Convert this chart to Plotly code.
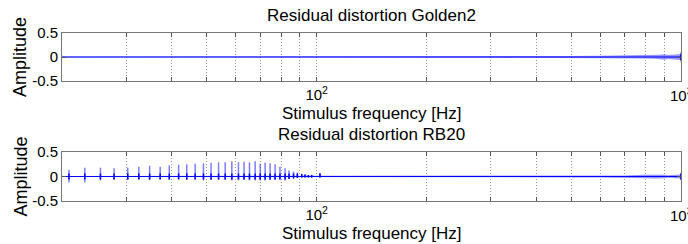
import plotly.graph_objects as go

# ---------------- data ----------------
titles = ["Residual distortion Golden2", "Residual distortion RB20"]
x_label = "Stimulus frequency [Hz]"
y_label = "Amplitude"

x_tickvals = [20, 30, 40, 50, 60, 70, 80, 90, 100, 200, 300, 400, 500, 600, 700, 800, 900, 1000]
x_ticktext = ["", "", "", "", "", "", "", "", "10<sup>2</sup>", "", "", "", "", "", "", "", "", ""]
edge_tick_value = 1000
edge_tick_text = "10<sup>3</sup>"
y_tickvals = [-0.5, 0, 0.5]
y_ticktext = ["-0.5", "0", "0.5"]

# noise envelope (half-width) of the residual along frequency
env_freq = [20, 30, 40, 50, 60, 70, 80, 90, 100, 130, 160, 200, 300, 400, 500, 600, 700, 800, 850, 880, 900, 920, 950, 1000]
env_golden2 = [0.008, 0.008, 0.009, 0.010, 0.010, 0.011, 0.012, 0.013, 0.015, 0.018, 0.018, 0.016, 0.016, 0.018, 0.022, 0.025, 0.028, 0.032, 0.035, 0.045, 0.055, 0.042, 0.045, 0.060]
env_rb20 = [0.010, 0.010, 0.011, 0.012, 0.012, 0.013, 0.014, 0.015, 0.016, 0.014, 0.014, 0.014, 0.014, 0.016, 0.018, 0.020, 0.022, 0.035, 0.040, 0.042, 0.038, 0.028, 0.030, 0.040]

# isolated spikes (frequency, upper and lower extreme)
spike_freq_golden2 = [1000]
spike_top_golden2 = [0.10]
spike_bot_golden2 = [-0.10]

spike_freq_rb20 = [20.9, 23.1, 25.5, 27.8, 30.3, 32.5, 34.8, 37.2, 39.4, 41.8, 44.0, 46.4, 48.9, 51.3,
                   53.8, 56.1, 58.5, 61.0, 63.2, 65.4, 67.8, 70.0, 72.2, 74.5, 76.9, 79.3, 81.9, 84.0,
                   86.4, 88.5, 91.0, 92.9, 94.9, 96.9, 102.1, 1000]
spike_top_rb20 = [0.14, 0.18, 0.18, 0.17, 0.18, 0.20, 0.22, 0.20, 0.23, 0.24, 0.25, 0.26, 0.27, 0.28,
                  0.29, 0.29, 0.31, 0.29, 0.30, 0.29, 0.31, 0.26, 0.28, 0.27, 0.25, 0.20, 0.17, 0.12,
                  0.10, 0.08, 0.05, 0.04, 0.03, 0.03, 0.07, 0.07]
spike_bot_rb20 = [-0.12, -0.12, -0.08, -0.06, -0.07, -0.06, -0.07, -0.06, -0.07, -0.06, -0.07, -0.06, -0.08, -0.07,
                  -0.07, -0.07, -0.08, -0.08, -0.07, -0.08, -0.08, -0.08, -0.08, -0.07, -0.07, -0.06, -0.08, -0.05,
                  -0.04, -0.03, -0.02, -0.02, -0.02, -0.02, -0.02, -0.07]

# ---------------- figure ----------------
BLUE = "#0000ff"
FONT = "Liberation Sans, Arial, sans-serif"
W, H = 688, 244
x0, x1 = 62, 681
panels = [(33, 81), (152, 201)]

fig = go.Figure()
series = [
    (env_golden2, spike_freq_golden2, spike_top_golden2, spike_bot_golden2),
    (env_rb20, spike_freq_rb20, spike_top_rb20, spike_bot_rb20),
]
for i, (env, sf, st, sb) in enumerate(series):
    xa = "x" if i == 0 else "x2"
    ya = "y" if i == 0 else "y2"
    # noise band
    bx = env_freq + env_freq[::-1]
    by = list(env) + [-v for v in env[::-1]]
    fig.add_trace(go.Scatter(x=bx, y=by, fill="toself", fillcolor="rgba(60,60,255,0.55)",
                             line=dict(width=0), mode="lines", hoverinfo="skip",
                             xaxis=xa, yaxis=ya, showlegend=False))
    # baseline
    fig.add_trace(go.Scatter(x=env_freq, y=[0] * len(env_freq), mode="lines",
                             line=dict(color=BLUE, width=1), xaxis=xa, yaxis=ya, showlegend=False))
    # spikes (light full extent)
    sx, sy = [], []
    for f, t, b in zip(sf, st, sb):
        sx += [f, f, None]
        sy += [b, t, None]
    fig.add_trace(go.Scatter(x=sx, y=sy, mode="lines", line=dict(color="rgba(40,40,255,0.6)", width=1.5),
                             xaxis=xa, yaxis=ya, showlegend=False))
    # spikes (dark core near zero)
    cx, cy = [], []
    for f, t, b in zip(sf, st, sb):
        cx += [f, f, None]
        cy += [max(b, -0.06), min(t, 0.06), None]
    fig.add_trace(go.Scatter(x=cx, y=cy, mode="lines", line=dict(color=BLUE, width=1.5),
                             xaxis=xa, yaxis=ya, showlegend=False))

def xaxis_cfg(anchor):
    return dict(type="log", range=[1.30103, 3], domain=[x0 / W, x1 / W], anchor=anchor,
                tickvals=x_tickvals, ticktext=x_ticktext, ticks="inside", ticklen=4,
                tickcolor="#555", showline=True, linecolor="#777", linewidth=1, mirror="ticks",
                showgrid=True, gridcolor="#999", griddash="1px,2px", gridwidth=1,
                tickfont=dict(family=FONT, size=15, color="black"), zeroline=False)

def yaxis_cfg(anchor, top, bot):
    return dict(range=[-0.5, 0.5], domain=[1 - bot / H, 1 - top / H], anchor=anchor,
                tickvals=y_tickvals, ticktext=y_ticktext, ticks="inside", ticklen=4,
                tickcolor="#555", showline=True, linecolor="#777", linewidth=1, mirror="ticks",
                showgrid=False, zeroline=False,
                tickfont=dict(family=FONT, size=15, color="black"))

fig.update_layout(
    width=W, height=H, margin=dict(l=0, r=0, t=0, b=0, pad=0, autoexpand=False),
    paper_bgcolor="white", plot_bgcolor="white",
    xaxis=xaxis_cfg("y"), yaxis=yaxis_cfg("x", *panels[0]),
    xaxis2=xaxis_cfg("y2"), yaxis2=yaxis_cfg("x2", *panels[1]),
    showlegend=False,
)

cx_mid = (x0 + x1) / 2 / W
for i, (top, bot) in enumerate(panels):
    xa = "x" if i == 0 else "x2"
    fig.add_annotation(text=titles[i], x=cx_mid, y=1 - (top - 18) / H, xref="paper", yref="paper",
                       showarrow=False, font=dict(family=FONT, size=17, color="black"),
                       xanchor="center", yanchor="middle")
    fig.add_annotation(text=x_label, x=cx_mid, y=1 - (bot + 32) / H, xref="paper", yref="paper",
                       showarrow=False, font=dict(family=FONT, size=17, color="black"),
                       xanchor="center", yanchor="middle")
    fig.add_annotation(text=y_label, x=20 / W, y=1 - ((top + bot) / 2) / H, xref="paper", yref="paper",
                       showarrow=False, textangle=-90, font=dict(family=FONT, size=18, color="black"),
                       xanchor="center", yanchor="middle")
    # right-edge tick label (cut by the page edge as in the reference)
    fig.add_annotation(text=edge_tick_text, x=3, xref=xa, y=1 - (bot + 13) / H, yref="paper",
                       showarrow=False, font=dict(family=FONT, size=15, color="black"),
                       xanchor="center", yanchor="middle")

post = ("document.body.style.margin='0';document.body.style.padding='0';"
        "document.body.style.overflow='hidden';")
fig.write_html("out.html", config={"displayModeBar": False}, post_script=post)
